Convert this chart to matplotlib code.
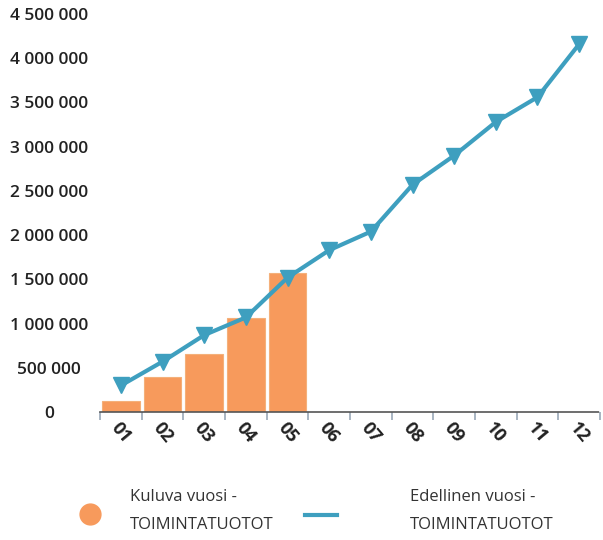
import numpy as np
import matplotlib
matplotlib.use("Agg")
import matplotlib.pyplot as plt
from matplotlib.lines import Line2D
from matplotlib.ticker import FuncFormatter

plt.rcParams['font.family'] = ['Open Sans', 'DejaVu Sans']

# ── Data ──────────────────────────────────────────────────────────────────────
months = ['01', '02', '03', '04', '05', '06', '07', '08', '09', '10', '11', '12']
current_year = [125000, 400000, 660000, 1065000, 1570000]          # Kuluva vuosi
previous_year = [300000, 570000, 870000, 1070000, 1520000, 1830000,
                 2040000, 2570000, 2900000, 3280000, 3560000, 4160000]  # Edellinen vuosi
y_ticks = [0, 500000, 1000000, 1500000, 2000000, 2500000,
           3000000, 3500000, 4000000, 4500000]

BAR_COLOR = '#F79A5C'
LINE_COLOR = '#3E9FBF'
TEXT_COLOR = '#222222'

fig = plt.figure(figsize=(6.03, 5.40), dpi=100)
ax = fig.add_axes([0.166, 0.237, 0.829, 0.737])

x = np.arange(len(months))
ax.bar(x[:len(current_year)], current_year, width=0.9, color=BAR_COLOR,
       edgecolor='#F4B07A', linewidth=0.8, zorder=2)
ax.plot(x, previous_year, color=LINE_COLOR, linewidth=3, marker='v',
        markersize=11, markerfacecolor=LINE_COLOR, markeredgecolor=LINE_COLOR,
        zorder=3)

ax.set_xlim(-0.5, len(months) - 0.5)
ax.set_ylim(0, 4500000)

# y axis
ax.set_yticks(y_ticks)
ax.yaxis.set_major_formatter(FuncFormatter(lambda v, p: f'{int(v):,}'.replace(',', ' ')))
ax.tick_params(axis='y', length=0, pad=37, labelsize=12.5, labelcolor=TEXT_COLOR)
for lab in ax.get_yticklabels():
    lab.set_horizontalalignment('center')
    lab.set_fontweight('semibold')

# x axis
ax.set_xticks(x)
ax.set_xticklabels(months)
ax.tick_params(axis='x', length=0, pad=15, labelsize=13, labelcolor=TEXT_COLOR)
for lab in ax.get_xticklabels():
    lab.set_rotation(-50)
    lab.set_horizontalalignment('center')
    lab.set_verticalalignment('center')
    lab.set_fontweight('bold')
ax.set_xticks(np.arange(-0.5, len(months)), minor=True)
ax.tick_params(axis='x', which='minor', length=6, width=1.2, color='#9AA8B8')

for side in ['top', 'right', 'left']:
    ax.spines[side].set_visible(False)
ax.spines['bottom'].set_color('#555555')
ax.spines['bottom'].set_linestyle((0, (2, 1)))
ax.spines['bottom'].set_linewidth(1.2)

# ── Legend (manual) ───────────────────────────────────────────────────────────
fig.add_artist(Line2D([90 / 603], [1 - 514 / 540], marker='o', markersize=15,
                      color=BAR_COLOR, linestyle='none', transform=fig.transFigure))
fig.text(130 / 603, 1 - 497 / 540, 'Kuluva vuosi -', fontsize=12,
         color='#333333', va='center', ha='left')
fig.text(130 / 603, 1 - 525 / 540, 'TOIMINTATUOTOT', fontsize=12,
         color='#333333', va='center', ha='left')

fig.add_artist(Line2D([305 / 603, 337 / 603], [1 - 515 / 540] * 2,
                      color=LINE_COLOR, linewidth=3, transform=fig.transFigure))
fig.text(410 / 603, 1 - 497 / 540, 'Edellinen vuosi -', fontsize=12,
         color='#333333', va='center', ha='left')
fig.text(410 / 603, 1 - 525 / 540, 'TOIMINTATUOTOT', fontsize=12,
         color='#333333', va='center', ha='left')

fig.savefig('out.png', dpi=100, facecolor='white')
